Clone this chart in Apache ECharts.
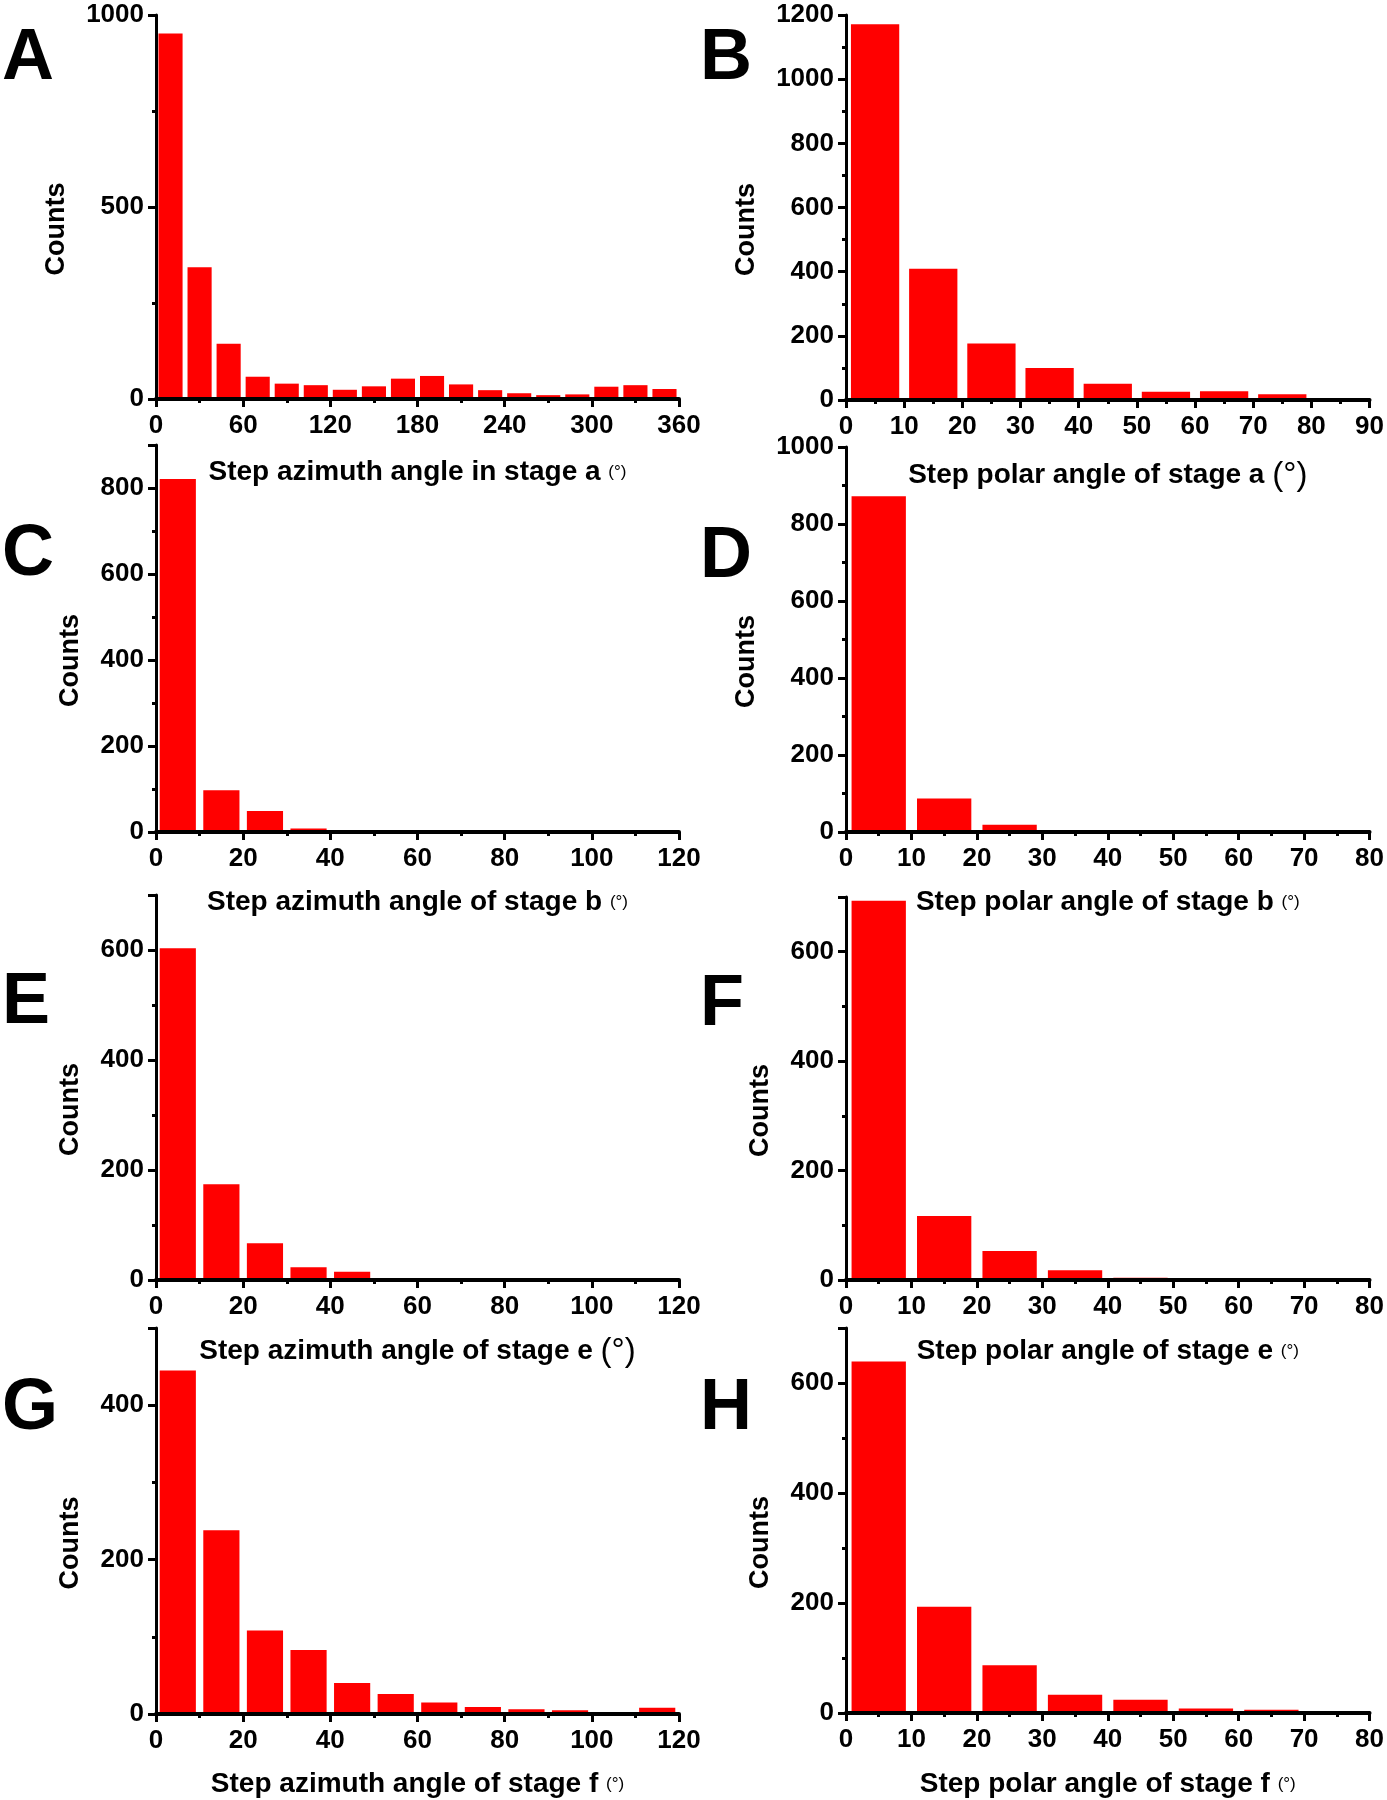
<!DOCTYPE html>
<html>
<head>
<meta charset="utf-8">
<script src="https://cdn.jsdelivr.net/npm/echarts@6/dist/echarts.min.js"></script>
<style>
  html, body { margin: 0; padding: 0; background: #fff; }
  #main { width: 1387px; height: 1800px; }
</style>
</head>
<body>
<div id="main"></div>
<script>
// histogram counts per bin
var countsA = [952, 343, 144, 58, 40, 36, 24, 33, 53, 60, 38, 23, 15, 10, 12, 32, 36, 26];
var countsB = [1171, 409, 176, 100, 51, 26, 27, 18, 4];
var countsC = [821, 97, 49, 8, 0, 0, 0, 0, 0, 0, 0, 0];
var countsD = [872, 87, 19, 4, 0, 0, 0, 0];
var countsE = [603, 174, 67, 23, 15, 2, 0, 0, 0, 0, 0, 0];
var countsF = [693, 117, 53, 18, 4, 0, 0, 0];
var countsG = [445, 238, 108, 83, 40, 26, 15, 9, 6, 5, 2, 8];
var countsH = [639, 193, 87, 33, 24, 8, 6, 3];

var panelLetters = ["A", "B", "C", "D", "E", "F", "G", "H"];
var binWidths = [20, 10, 10, 10, 10, 10, 10, 10];
var xMaxes = [360, 90, 120, 80, 120, 80, 120, 80];
var xSteps = [60, 10, 20, 10, 20, 10, 20, 10];
var yMaxes = [1000, 1200, 900, 1000, 700, 700, 500, 700];
var ySteps = [500, 200, 200, 200, 200, 200, 200, 200];
var xNames = [
  "Step azimuth angle in stage a {s|(°)}",
  "Step polar angle of stage a {l|(°)}",
  "Step azimuth angle of stage b {s|(°)}",
  "Step polar angle of stage b {s|(°)}",
  "Step azimuth angle of stage e {l|(°)}",
  "Step polar angle of stage e {s|(°)}",
  "Step azimuth angle of stage f {s|(°)}",
  "Step polar angle of stage f {s|(°)}"
];

var allCounts = [countsA, countsB, countsC, countsD, countsE, countsF, countsG, countsH];

// grid boxes [left, top, width, height] in px
var boxes = [
  [156, 15, 523, 384], [846, 15, 526, 385],
  [156, 445, 523, 387], [846, 447, 526, 385],
  [156, 895, 523, 385], [846, 897, 526, 383],
  [156, 1328, 523, 386], [846, 1328, 526, 385]
];
var countsGap = [86, 86, 72, 86, 72, 72, 72, 72];
var nameGaps = [59, 59, 56, 56, 55, 57, 56, 57];

var font = "Arial, 'Liberation Sans', sans-serif";
var grids = [], xAxes = [], yAxes = [], series = [], titles = [];

function plain(v) {
  return String(v);
}

for (var i = 0; i < 8; i++) {
  var b = boxes[i];
  grids.push({ left: b[0], top: b[1], width: b[2], height: b[3] });

  titles.push({
    text: panelLetters[i],
    left: i % 2 == 0 ? 2 : 700,
    top: b[1] + (i < 2 ? 8 : (i < 4 ? 74 : (i < 6 ? 72 : 45))),
    padding: 0,
    textStyle: { fontSize: 72, fontWeight: "bold", color: "#000", fontFamily: font }
  });

  xAxes.push({
    type: "value",
    gridIndex: i,
    min: 0,
    max: xMaxes[i],
    interval: xSteps[i],
    z: 5,
    name: xNames[i],
    nameLocation: "middle",
    nameGap: nameGaps[i],
    nameTextStyle: {
      fontSize: 28, fontWeight: "bold", color: "#000", fontFamily: font,
      rich: {
        s: { fontSize: 17, fontWeight: "normal", color: "#000", fontFamily: font },
        l: { fontSize: 33, fontWeight: "normal", color: "#000", fontFamily: font }
      }
    },
    axisLine: { show: true, onZero: false, lineStyle: { color: "#000", width: 4 } },
    axisTick: { show: true, length: 8, lineStyle: { color: "#000", width: 3 } },
    minorTick: { show: true, splitNumber: 2, length: 4, lineStyle: { color: "#000", width: 3 } },
    splitLine: { show: false },
    axisLabel: { margin: 14, fontSize: 26, fontWeight: "bold", color: "#000", fontFamily: font, formatter: plain }
  });

  yAxes.push({
    type: "value",
    gridIndex: i,
    min: 0,
    max: yMaxes[i],
    interval: ySteps[i],
    z: 5,
    name: "Counts",
    nameLocation: "middle",
    nameGap: countsGap[i],
    nameTextStyle: {
      fontSize: 27, fontWeight: "bold", color: "#000", fontFamily: font,
      padding: [0, 44, 0, 0]
    },
    axisLine: { show: true, lineStyle: { color: "#000", width: 3 } },
    axisTick: { show: true, length: 8, lineStyle: { color: "#000", width: 3 } },
    minorTick: { show: true, splitNumber: 2, length: 4, lineStyle: { color: "#000", width: 3 } },
    splitLine: { show: false },
    axisLabel: {
      margin: 12, fontSize: 26, fontWeight: "bold", color: "#000", fontFamily: font,
      formatter: plain,
      showMaxLabel: yMaxes[i] % ySteps[i] == 0
    }
  });

  var pts = allCounts[i].map(function (c, k) {
    return [binWidths[i] * k + binWidths[i] / 2, c];
  });
  series.push({
    type: "bar",
    xAxisIndex: i,
    yAxisIndex: i,
    data: pts,
    barWidth: "83%",
    itemStyle: { color: "#ff0000" },
    silent: true
  });
}

var chart = echarts.init(document.getElementById("main"));
chart.setOption({
  animation: false,
  backgroundColor: "#fff",
  title: titles,
  grid: grids,
  xAxis: xAxes,
  yAxis: yAxes,
  series: series
});
</script>
</body>
</html>
